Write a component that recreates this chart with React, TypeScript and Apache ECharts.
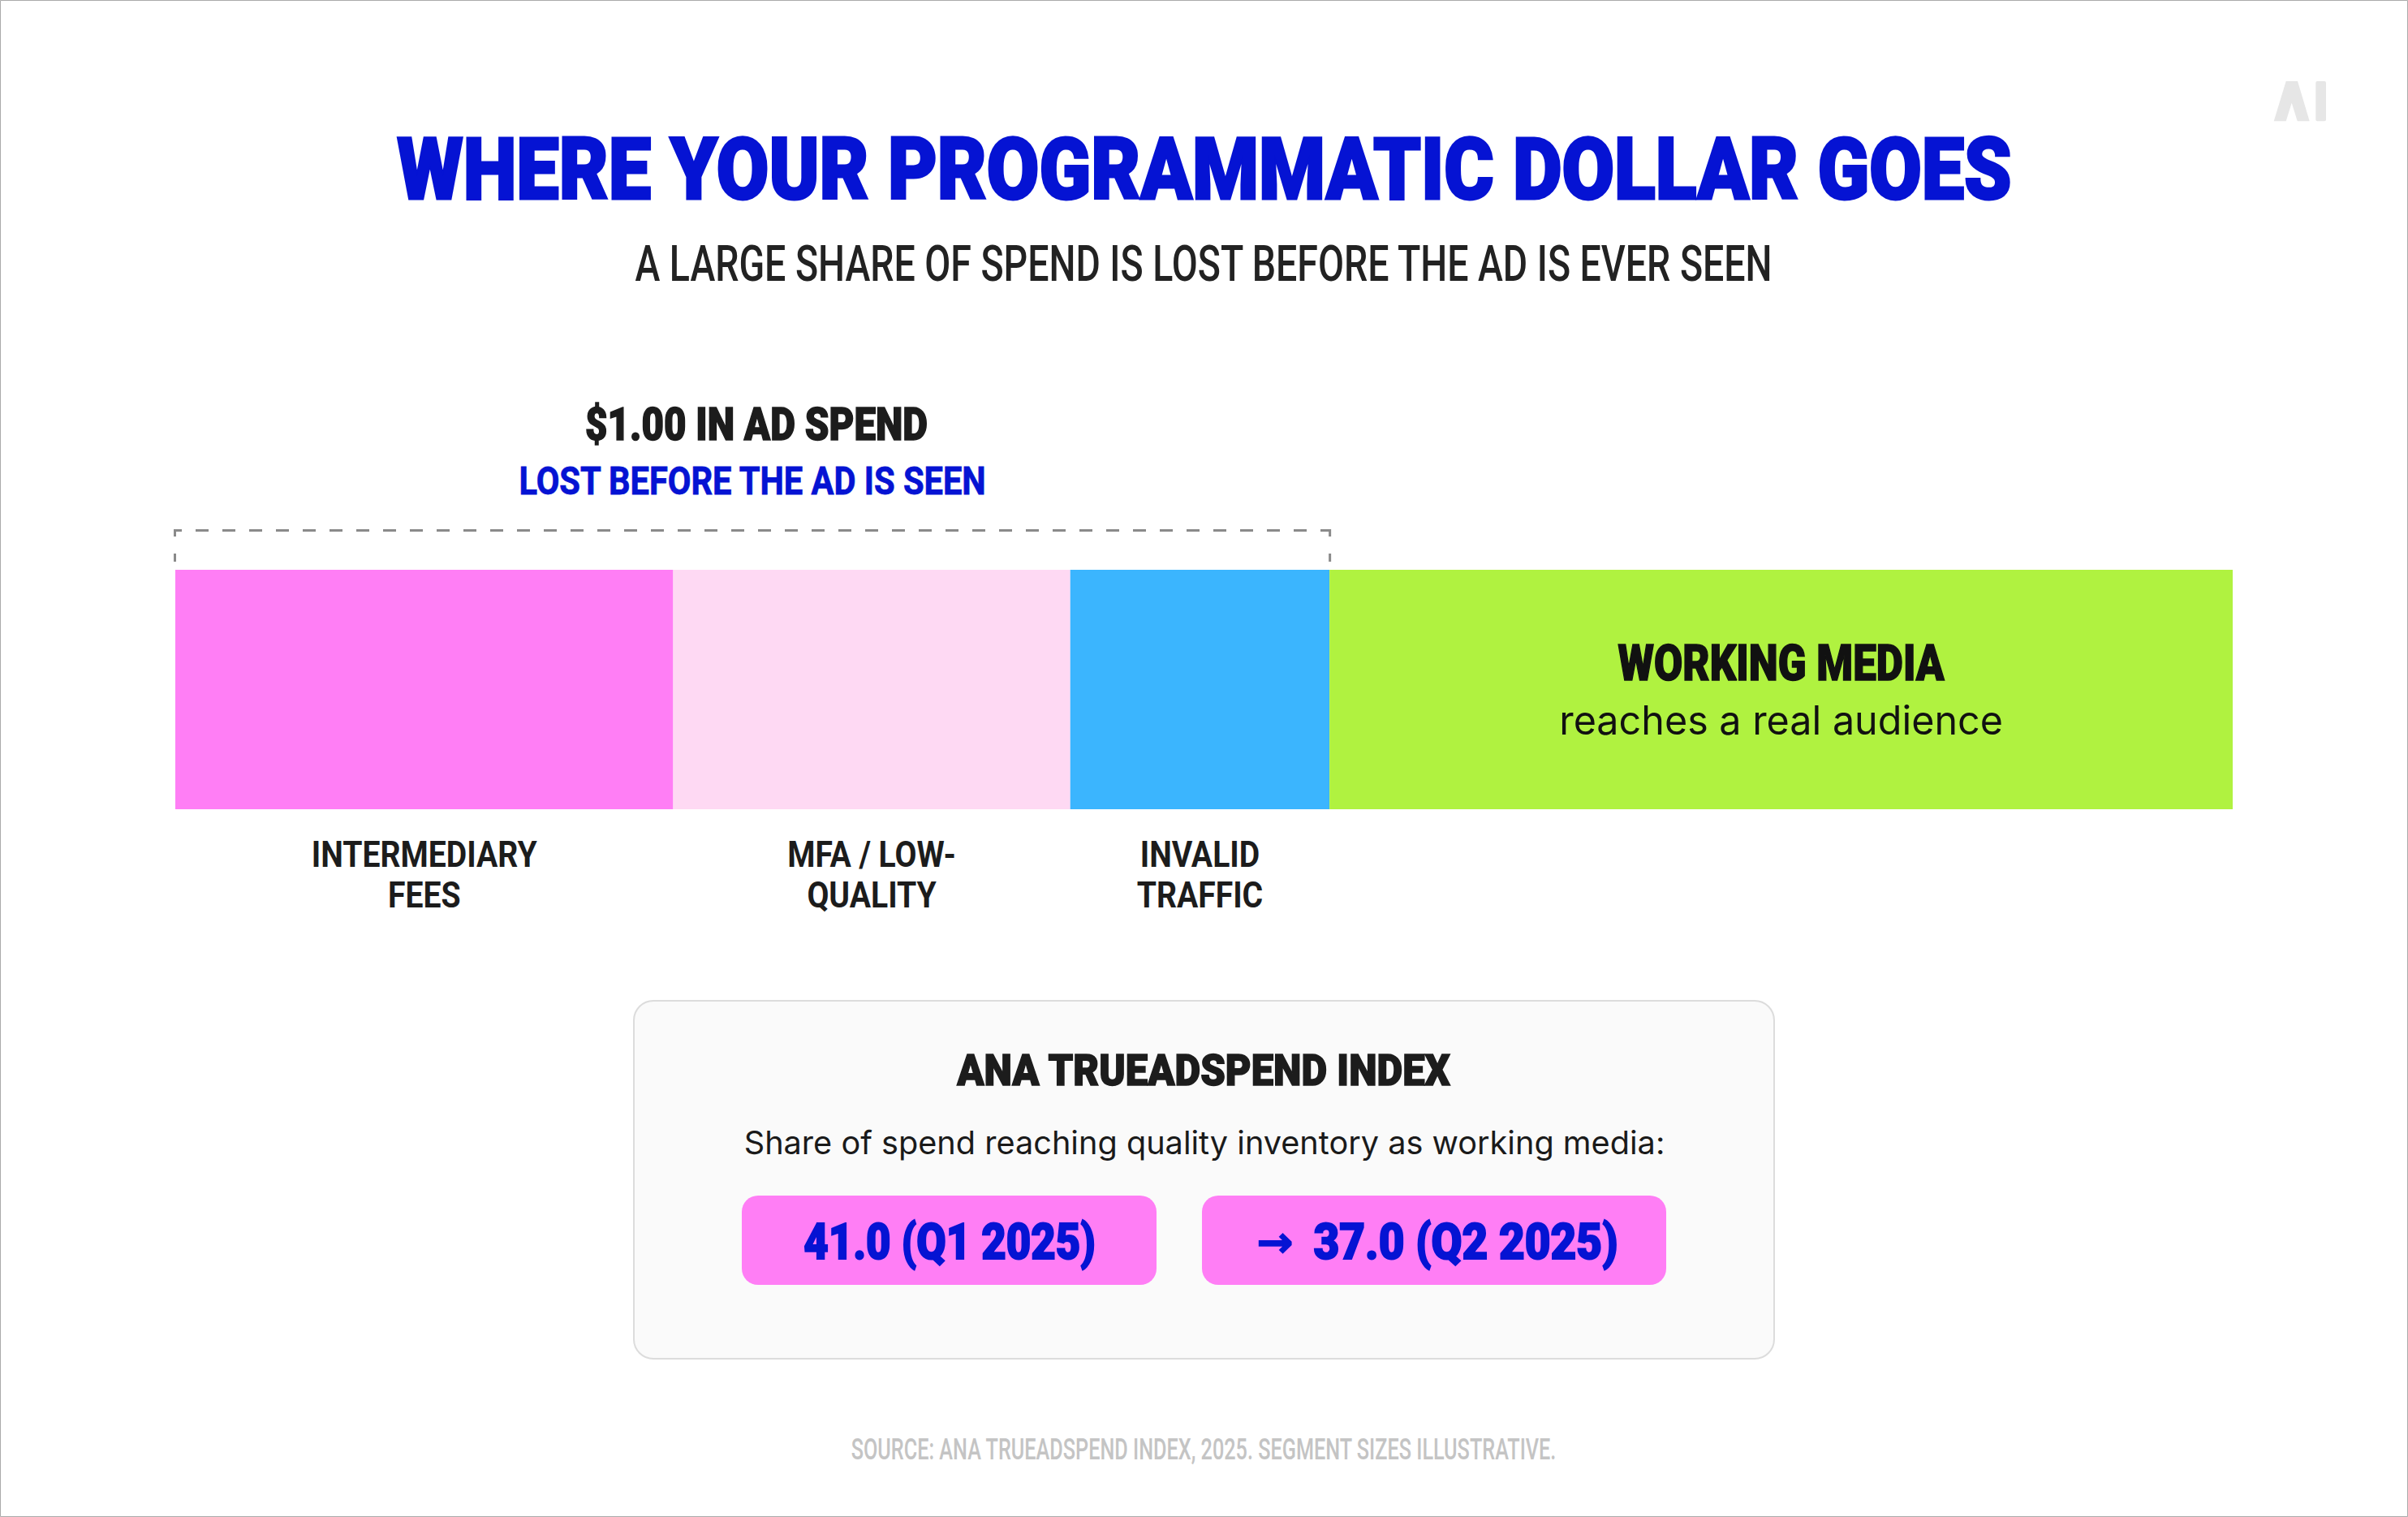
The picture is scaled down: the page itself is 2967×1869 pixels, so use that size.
import React, { useEffect, useRef } from "react";
import * as echarts from "echarts";

const W = 2967;
const H = 1869;

// ---------- content / data ----------
const titleText = "WHERE YOUR PROGRAMMATIC DOLLAR GOES";
const subtitleText = "A LARGE SHARE OF SPEND IS LOST BEFORE THE AD IS EVER SEEN";
const spendLabel = "$1.00 IN AD SPEND";
const lostLabel = "LOST BEFORE THE AD IS SEEN";

const segmentNames = ["INTERMEDIARY\nFEES", "MFA / LOW-\nQUALITY", "INVALID\nTRAFFIC", "WORKING MEDIA"];
const segmentValues = [24.2, 19.3, 12.6, 43.9];
const segmentColors = ["#ff7ef5", "#fed9f3", "#3bb5fe", "#b0f240"];
const lostCount = 3;
const workingSub = "reaches a real audience";

const indexTitle = "ANA TRUEADSPEND INDEX";
const indexCaption = "Share of spend reaching quality inventory as working media:";
const indexValues = [41.0, 37.0];
const indexPeriods = ["Q1 2025", "Q2 2025"];
const sourceText = "SOURCE: ANA TRUEADSPEND INDEX, 2025. SEGMENT SIZES ILLUSTRATIVE.";

// ---------- styling helpers ----------
const BLUE = "#0513d3";
const DARK = "#1c1c1c";
const HEAD = "Roboto, 'Noto Sans', sans-serif";
const BODY = "Inter, 'Noto Sans', sans-serif";
const CAP = 0.711;

let measureCtx: CanvasRenderingContext2D | null = null;
function measure(text: string, weight: number, size: number, family: string): number {
  if (!measureCtx) measureCtx = document.createElement("canvas").getContext("2d");
  const ctx = measureCtx!;
  ctx.font = `${weight} ${size}px ${family}`;
  return Math.max(...text.split("\n").map((l) => ctx.measureText(l).width));
}

function txt(
  text: string,
  x: number,
  y: number,
  size: number,
  weight: number,
  color: string,
  family: string,
  targetW: number | null,
  extra: any = {},
  fixedScale?: number
) {
  const sx = fixedScale ?? (targetW ? targetW / measure(text, weight, size, family) : 1);
  return {
    type: "text",
    x,
    y,
    scaleX: sx,
    silent: true,
    z: 10,
    style: {
      text,
      fill: color,
      fontSize: size,
      fontWeight: weight,
      fontFamily: family,
      textAlign: "center",
      textVerticalAlign: "middle",
      ...extra,
    },
  };
}

// heavy look: add an outline of the same colour
const heavy = (color: string, w: number) => ({ stroke: color, lineWidth: w });

export default function App() {
  const ref = useRef<HTMLDivElement>(null);

  useEffect(() => {
    if (!ref.current) return;
    const chart = echarts.init(ref.current, null, { renderer: "svg", width: W, height: H });
    const total = segmentValues.reduce((a, b) => a + b, 0);

    chart.setOption({
      animation: false,
      backgroundColor: "#ffffff",
      grid: { left: 216, right: 216, top: 702, height: 295 },
      xAxis: { type: "value", min: 0, max: total, show: false },
      yAxis: { type: "category", data: ["spend"], show: false },
      series: segmentValues.map((v, i) => ({
        type: "bar",
        name: segmentNames[i].replace("\n", " "),
        stack: "spend",
        data: [v],
        barWidth: "100%",
        silent: true,
        itemStyle: { color: segmentColors[i] },
        emphasis: { disabled: true },
      })),
    });

    const px = (v: number) => chart.convertToPixel({ xAxisIndex: 0 }, v) as number;
    const cum: number[] = [0];
    segmentValues.forEach((v) => cum.push(cum[cum.length - 1] + v));
    const lostEnd = cum[lostCount];
    const x0 = px(0);
    const xl = px(lostEnd);
    const bracketCx = (x0 + xl) / 2;

    const labelSize = 31.5 / CAP;
    const labelScale = 278 / measure("INTERMEDIARY", 700, labelSize, HEAD);

    const g: any[] = [];
    // page border
    g.push({
      type: "rect",
      silent: true,
      shape: { x: 0.5, y: 0.5, width: W - 1, height: H - 1 },
      style: { fill: "none", stroke: "#aaaaaa", lineWidth: 1 },
    });
    // logo
    g.push({
      type: "polygon",
      silent: true,
      shape: {
        points: [
          [2816.7, 100], [2831, 100], [2845.7, 149.3], [2830.7, 149.3],
          [2823.7, 126.7], [2816.7, 149.3], [2801.7, 149.3],
        ],
      },
      style: { fill: "#e6e6e6" },
    });
    g.push({
      type: "rect",
      silent: true,
      shape: { x: 2853.3, y: 100, width: 12.7, height: 49.3, r: 2 },
      style: { fill: "#e6e6e6" },
    });

    // titles
    g.push(txt(titleText, 1484, 209, 75 / CAP, 900, BLUE, HEAD, 1990, heavy(BLUE, 3)));
    g.push(txt(subtitleText, 1483, 325, 44 / CAP, 500, "#222222", HEAD, 1403));

    // bracket
    g.push({
      type: "line",
      silent: true,
      shape: { x1: x0 - 1, y1: 653.5, x2: xl + 1, y2: 653.5 },
      style: { stroke: "#8a8a8a", lineWidth: 3, lineDash: [16, 17], lineDashOffset: 7, fill: "none" },
    });
    [x0 - 0.5, xl + 0.5].forEach((bx) => {
      g.push({
        type: "line",
        silent: true,
        shape: { x1: bx, y1: 652, x2: bx, y2: 692 },
        style: { stroke: "#8a8a8a", lineWidth: 3, lineDash: [9, 21, 10], fill: "none" },
      });
    });
    g.push(txt(spendLabel, bracketCx + 5, 523, 39 / CAP, 900, DARK, HEAD, 422, heavy(DARK, 1.5)));
    g.push(txt(lostLabel, bracketCx, 592, 34 / CAP, 700, BLUE, HEAD, 577, heavy(BLUE, 0.8)));

    // segment labels
    for (let i = 0; i < lostCount; i++) {
      const cx = px((cum[i] + cum[i + 1]) / 2);
      g.push(
        txt(segmentNames[i], cx, 1078, labelSize, 700, DARK, HEAD, null, { lineHeight: 50 }, labelScale)
      );
    }
    const wx = px((cum[lostCount] + cum[segmentValues.length]) / 2);
    g.push(txt(segmentNames[lostCount], wx, 817, 43 / CAP, 900, "#111111", HEAD, 402, heavy("#111111", 1.5)));
    g.push(txt(workingSub, wx, 887, 49, 400, "#111111", BODY, 547));

    // index card
    g.push({
      type: "rect",
      silent: true,
      shape: { x: 781, y: 1233, width: 1405, height: 441, r: 24 },
      style: { fill: "#fafafa", stroke: "#dcdcdc", lineWidth: 2 },
    });
    g.push(txt(indexTitle, 1483, 1319, 38 / CAP, 900, DARK, HEAD, 609, heavy(DARK, 1.5)));
    g.push(txt(indexCaption, 1484, 1408, 39, 400, "#1a1a1a", BODY, 1135));

    const pills = [
      { x: 914, w: 511, tcx: 1170, tw: 360 },
      { x: 1481, w: 572, tcx: 1806, tw: 375 },
    ];
    indexValues.forEach((v, i) => {
      const p = pills[i];
      g.push({
        type: "rect",
        silent: true,
        shape: { x: p.x, y: 1473, width: p.w, height: 110, r: 20 },
        style: { fill: "#ff7ef5" },
      });
      const label = `${v.toFixed(1)} (${indexPeriods[i]})`;
      g.push(txt(label, p.tcx, 1530, 44 / CAP, 900, BLUE, HEAD, p.tw, heavy(BLUE, 2)));
      if (i > 0) {
        g.push(txt("→", 1571, 1530, 52, 700, BLUE, "'DejaVu Sans', sans-serif", 45, heavy(BLUE, 1.5)));
      }
    });

    g.push(txt(sourceText, 1483, 1786, 26 / CAP, 500, "#c4c4c4", HEAD, 870));

    chart.setOption({ graphic: g });

    return () => chart.dispose();
  }, []);

  return (
    <div
      ref={ref}
      style={{ position: "fixed", left: 0, top: 0, width: W, height: H, background: "#ffffff" }}
    />
  );
}
